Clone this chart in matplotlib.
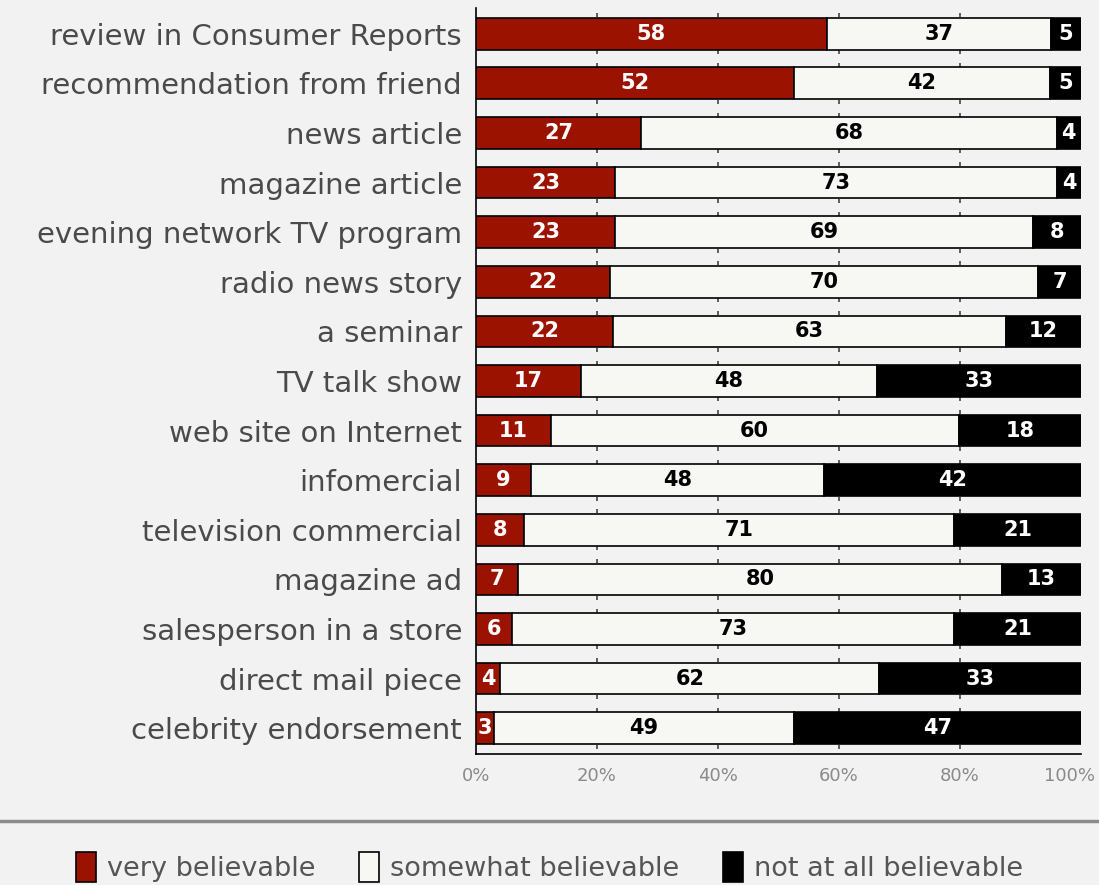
import matplotlib.pyplot as plt
import matplotlib.transforms as mtransforms
import numpy as np
from matplotlib.patches import Patch

sources = [
    "review in Consumer Reports", "recommendation from friend", "news article",
    "magazine article", "evening network TV program", "radio news story",
    "a seminar", "TV talk show", "web site on Internet", "infomercial",
    "television commercial", "magazine ad", "salesperson in a store",
    "direct mail piece", "celebrity endorsement",
]
very = [58, 52, 27, 23, 23, 22, 22, 17, 11, 9, 8, 7, 6, 4, 3]
somewhat = [37, 42, 68, 73, 69, 70, 63, 48, 60, 48, 71, 80, 73, 62, 49]
not_at_all = [5, 5, 4, 4, 8, 7, 12, 33, 18, 42, 21, 13, 21, 33, 47]

series_names = ["very believable", "somewhat believable", "not at all believable"]
colors = ["#9b1200", "#f7f7f4", "#000000"]
text_colors = ["white", "black", "white"]

bg = "#f2f2f2"
plt.rcParams['font.family'] = ['DejaVu Sans']

fig = plt.figure(figsize=(10.99, 8.85), dpi=100, facecolor=bg)
ax = fig.add_axes([0.4331, 0.148, 0.5505, 0.843])
ax.set_facecolor(bg)

vals = np.array([very, somewhat, not_at_all], dtype=float)
totals = vals.sum(axis=0)
shares = vals / totals * 100  # each row fills 0-100%

y = np.arange(len(sources))
h = 0.64
left = np.zeros(len(sources))
for k in range(3):
    ax.barh(y, shares[k], left=left, height=h, color=colors[k],
            edgecolor="black", linewidth=1.2, zorder=3)
    for i in range(len(sources)):
        ax.text(left[i] + shares[k][i] / 2, y[i], str(int(vals[k][i])),
                ha="center", va="center", fontsize=15, fontweight="bold",
                color=text_colors[k], zorder=4)
    left += shares[k]

# little grid ticks just outside each bar edge
grid_x = [20, 40, 60, 80]
for i in y:
    for yy in (i - h / 2 - 0.05, i + h / 2 + 0.05):
        ax.plot(grid_x, [yy] * 4, linestyle="none", marker="|",
                markersize=3, color="#444444", mew=1.2, zorder=2)

ax.set_xlim(0, 100)
ax.set_ylim(len(sources) - 0.48, -0.52)
ax.set_yticks(y)
ax.set_yticklabels(sources, fontsize=21, color="#4a4a4a")
ax.set_xticks([0, 20, 40, 60, 80, 100])
ax.set_xticklabels(["0%", "20%", "40%", "60%", "80%", "100%"],
                   fontsize=13, color="#8a8a8a")
ax.tick_params(axis="both", length=0)
ax.tick_params(axis="y", pad=10)
ax.tick_params(axis="x", pad=9)
for s in ["top", "right"]:
    ax.spines[s].set_visible(False)
ax.spines["left"].set_linewidth(1.2)
ax.spines["bottom"].set_linewidth(1.2)

# keep the "100%" label inside the figure
last = ax.get_xticklabels()[-1]
last.set_horizontalalignment("right")
last.set_transform(last.get_transform() +
                   mtransforms.ScaledTranslation(14 / 100, 0, fig.dpi_scale_trans))

# separator above the legend
fig.add_artist(plt.Line2D([0, 1], [1 - 821 / 885] * 2, color="#8c8c8c",
                          linewidth=2.5, transform=fig.transFigure))

handles = [Patch(facecolor=colors[k], edgecolor="black", linewidth=1.2)
           for k in range(3)]
fig.legend(handles, series_names, loc="center", bbox_to_anchor=(0.5, 1 - 867 / 885),
           ncol=3, frameon=False, fontsize=19.5, handlelength=0.75, handleheight=1.3,
           handletextpad=0.4, columnspacing=1.6, labelcolor="#555555")

fig.savefig("out.png", dpi=100, facecolor=bg)
